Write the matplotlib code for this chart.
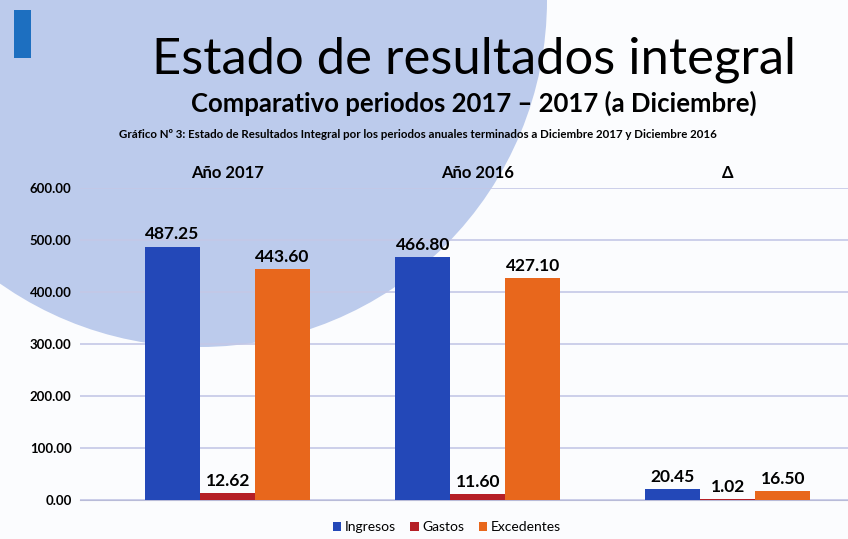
import numpy as np
import matplotlib.pyplot as plt
from matplotlib.patches import Circle, Rectangle

plt.rcParams['font.family'] = ['Lato', 'DejaVu Sans']

groups = ['Año 2017', 'Año 2016', 'Δ']
series = ['Ingresos', 'Gastos', 'Excedentes']
ingresos = [487.25, 466.80, 20.45]
gastos = [12.62, 11.60, 1.02]
excedentes = [443.60, 427.10, 16.50]
colors = ['#2348b8', '#b51f26', '#e8671c']
yticks = [0, 100, 200, 300, 400, 500, 600]

W, H = 848, 539
fig = plt.figure(figsize=(W / 100, H / 100), dpi=100)
fig.patch.set_facecolor('#fbfcfe')

# slide background decoration, drawn in pixel coords on a back axes
bg = fig.add_axes([0, 0, 1, 1], zorder=-1)
bg.set_xlim(0, W)
bg.set_ylim(H, 0)
bg.axis('off')
bg.add_patch(Circle((200, 0), 347, facecolor='#bccbec', edgecolor='none'))
bg.add_patch(Rectangle((14, 10), 17, 48, facecolor='#1d6fc0', edgecolor='none'))

fig.text(474 / W, 1 - 60 / H, 'Estado de resultados integral', fontsize=36.5,
         ha='center', va='center')
fig.text(474 / W, 1 - 103 / H, 'Comparativo periodos 2017 – 2017 (a Diciembre)',
         fontsize=18.5, ha='center', va='center', fontweight='bold')
fig.text(418 / W, 1 - 134 / H,
         'Gráfico Nº 3: Estado de Resultados Integral por los periodos anuales terminados a Diciembre 2017 y Diciembre 2016',
         fontsize=8.3, ha='center', va='center', fontweight='bold')

ax = fig.add_axes([80 / W, 1 - 500 / H, (W - 80) / W, (500 - 188) / H])
ax.set_facecolor('none')

x = np.arange(len(groups))
w = 0.22
for i, (vals, name) in enumerate(zip([ingresos, gastos, excedentes], series)):
    bars = ax.bar(x + (i - 1) * w, vals, w, color=colors[i], label=name, zorder=3)
    for b, v in zip(bars, vals):
        ax.text(b.get_x() + b.get_width() / 2, v + 8, f'{v:.2f}', ha='center',
                va='bottom', fontsize=12.5, fontweight='bold')

ax.set_xlim(-0.59, 2.48)
ax.set_ylim(0, 600)
ax.set_yticks(yticks)
ax.set_yticklabels([f'{t:.2f}' for t in yticks], fontsize=9.5, fontweight='bold')
ax.tick_params(axis='y', length=0, pad=6)
ax.set_xticks([])
ax.grid(axis='y', color='#c4c8e6', lw=1.2, zorder=0)
for s in ['top', 'right', 'left']:
    ax.spines[s].set_visible(False)
ax.spines['bottom'].set_color('#b8bbd8')

for xi, g in zip(x, groups):
    ax.text(xi, 614, g, ha='center', va='bottom', fontsize=12, fontweight='bold')

ax.legend(loc='center', bbox_to_anchor=(447 / W, 12 / H), bbox_transform=fig.transFigure,
          ncol=3, frameon=False, fontsize=10, handlelength=0.6, handleheight=0.6,
          columnspacing=1.0, handletextpad=0.3)

fig.savefig('out.png', dpi=100)
